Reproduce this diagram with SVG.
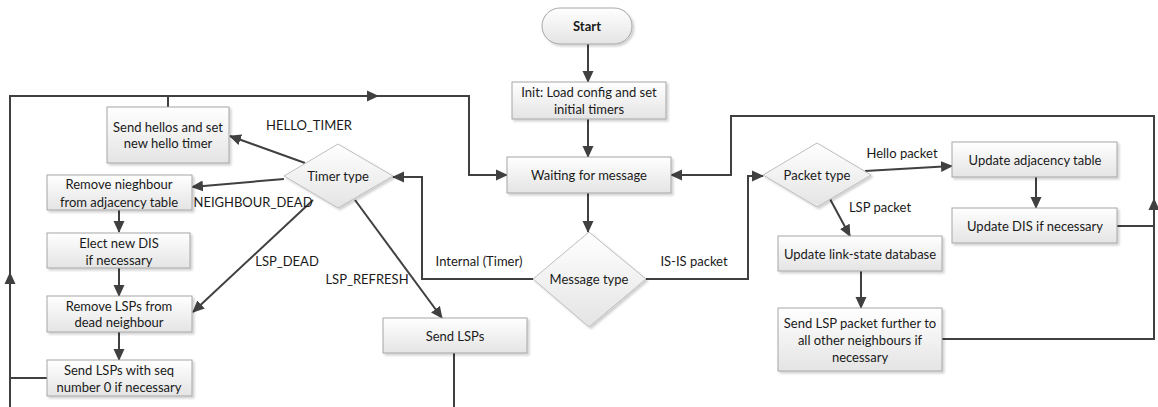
<svg xmlns="http://www.w3.org/2000/svg" width="1158" height="407" viewBox="0 0 1158 407">
  <defs>
    <linearGradient id="boxFill" x1="0" y1="0" x2="0" y2="1">
      <stop offset="0" stop-color="#ffffff"/>
      <stop offset="1" stop-color="#e4e4e4"/>
    </linearGradient>
    <filter id="shadow" x="-10%" y="-10%" width="130%" height="140%">
      <feDropShadow dx="2" dy="2" stdDeviation="1.2" flood-color="#000" flood-opacity="0.18"/>
    </filter>
    <marker id="arrow" viewBox="0 0 12 12" refX="11" refY="6" markerWidth="12" markerHeight="12" markerUnits="userSpaceOnUse" orient="auto">
      <path d="M0,0.5 L12,6 L0,11.5 Z" fill="#404040"/>
    </marker>
  </defs>
  <style>
    .box { fill: url(#boxFill); stroke: #a6a6a6; stroke-width: 1; filter: url(#shadow); }
    .dia { fill: url(#boxFill); stroke: #bdbdbd; stroke-width: 1; filter: url(#shadow); }
    .t { font-family: Lato, "Liberation Sans", sans-serif; font-size: 13px; fill: #1a1a1a; text-anchor: middle; dominant-baseline: central; }
    .lbl { font-family: Lato, "Liberation Sans", sans-serif; font-size: 13px; fill: #1a1a1a; text-anchor: middle; dominant-baseline: central; }
    .b { font-weight: bold; }
    .c { fill: none; stroke: #404040; stroke-width: 2; }
    .a { marker-end: url(#arrow); }
  </style>
  <rect width="1158" height="407" fill="#ffffff"/>

  <!-- connectors -->
  <g id="connectors">
    <path class="c a" d="M588,44 V82"/>
    <path class="c a" d="M588,119 V157"/>
    <path class="c a" d="M588,193 V232"/>
    <path class="c a" d="M533,279 H422 V177 H393"/>
    <path class="c a" d="M646,279 H748 V176 H763"/>
    <path class="c a" d="M305,163 L230,136"/>
    <path class="c a" d="M284,179 L192,187"/>
    <path class="c a" d="M313,200 L193,312"/>
    <path class="c a" d="M355,200 L442,318"/>
    <path class="c a" d="M119,210 V232"/>
    <path class="c a" d="M119,268 V296"/>
    <path class="c a" d="M119,332 V360"/>
    <path class="c" d="M454,353 V407"/>
    <!-- return loop on the left -->
    <path class="c a" d="M10,407 V273"/>
    <path class="c" d="M47,378 H10"/>
    <path class="c a" d="M10,274 V96 H378"/>
    <path class="c a" d="M377,96 H469 V175 H507"/>
    <path class="c" d="M168,107 V96"/>
    <!-- packet branch -->
    <path class="c a" d="M865,171 L952,166"/>
    <path class="c a" d="M1036,177 V208"/>
    <path class="c a" d="M830,199 L850,236"/>
    <path class="c a" d="M861,271 V308"/>
    <!-- return loop on the right -->
    <path class="c" d="M1117,226 H1154"/>
    <path class="c a" d="M942,339 H1154 V199"/>
    <path class="c a" d="M1154,200 V116 H731 V175 H671"/>
  </g>

  <g id="start">
    <rect class="box" x="542" y="8" width="90" height="36" rx="18" ry="18"/>
    <text class="t b" x="587" y="26">Start</text>
  </g>
  <g id="init">
    <rect class="box" x="512" y="82" width="154" height="37"/>
    <text class="t" x="589" y="92">Init: Load config and set</text>
    <text class="t" x="589" y="109">initial timers</text>
  </g>
  <g id="waiting">
    <rect class="box" x="507" y="157" width="164" height="36"/>
    <text class="t" x="589" y="175">Waiting for message</text>
  </g>
  <g id="message-type">
    <polygon class="dia" points="589,232 646,279 589,327 533,279"/>
    <text class="t" x="589" y="279">Message type</text>
  </g>
  <g id="timer-type">
    <polygon class="dia" points="338,144 393,176 338,208 284,176"/>
    <text class="t" x="338" y="176">Timer type</text>
  </g>
  <g id="send-hellos">
    <rect class="box" x="107" y="107" width="122" height="56"/>
    <text class="t" x="168" y="127">Send hellos and set</text>
    <text class="t" x="168" y="143">new hello timer</text>
  </g>
  <g id="remove-neighbour">
    <rect class="box" x="47" y="175" width="145" height="35"/>
    <text class="t" x="119" y="184">Remove nieghbour</text>
    <text class="t" x="119" y="202">from adjacency table</text>
  </g>
  <g id="elect-dis">
    <rect class="box" x="47" y="233" width="143" height="35"/>
    <text class="t" x="119" y="243">Elect new DIS</text>
    <text class="t" x="119" y="260">if necessary</text>
  </g>
  <g id="remove-lsps">
    <rect class="box" x="47" y="296" width="145" height="36"/>
    <text class="t" x="119" y="306">Remove LSPs from</text>
    <text class="t" x="119" y="322">dead neighbour</text>
  </g>
  <g id="send-lsps-seq0">
    <rect class="box" x="47" y="360" width="145" height="36"/>
    <text class="t" x="119" y="370">Send LSPs with seq</text>
    <text class="t" x="119" y="387">number 0 if necessary</text>
  </g>
  <g id="send-lsps">
    <rect class="box" x="383" y="318" width="144" height="35"/>
    <text class="t" x="455" y="336">Send LSPs</text>
  </g>
  <g id="packet-type">
    <polygon class="dia" points="817,143 871,175 817,207 763,175"/>
    <text class="t" x="817" y="175">Packet type</text>
  </g>
  <g id="update-adjacency">
    <rect class="box" x="952" y="142" width="165" height="35"/>
    <text class="t" x="1035" y="160">Update adjacency table</text>
  </g>
  <g id="update-dis">
    <rect class="box" x="952" y="208" width="165" height="35"/>
    <text class="t" x="1035" y="226">Update DIS if necessary</text>
  </g>
  <g id="update-lsdb">
    <rect class="box" x="778" y="236" width="164" height="35"/>
    <text class="t" x="860" y="254">Update link-state database</text>
  </g>
  <g id="flood-lsp">
    <rect class="box" x="778" y="308" width="164" height="63"/>
    <text class="t" x="860" y="323">Send LSP packet further to</text>
    <text class="t" x="860" y="340">all other neighbours if</text>
    <text class="t" x="860" y="357">necessary</text>
  </g>

  <g id="labels">
    <text class="lbl" x="309" y="125">HELLO_TIMER</text>
    <text class="lbl" x="253" y="202">NEIGHBOUR_DEAD</text>
    <text class="lbl" x="287" y="261">LSP_DEAD</text>
    <text class="lbl" x="367" y="279">LSP_REFRESH</text>
    <text class="lbl" x="479" y="261">Internal (Timer)</text>
    <text class="lbl" x="694" y="261">IS-IS packet</text>
    <text class="lbl" x="902" y="153">Hello packet</text>
    <text class="lbl" x="880" y="207">LSP packet</text>
  </g>
</svg>
